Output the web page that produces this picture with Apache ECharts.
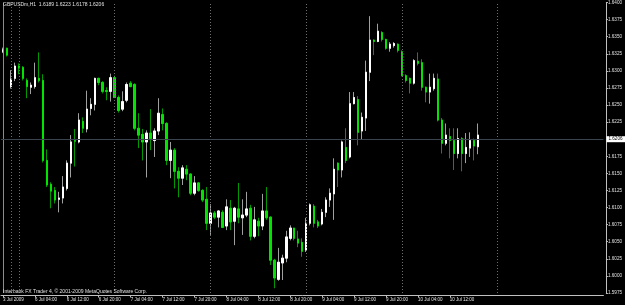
<!DOCTYPE html>
<html><head><meta charset="utf-8">
<script src="https://cdn.jsdelivr.net/npm/echarts@6/dist/echarts.min.js"></script>
<style>html,body{margin:0;padding:0;background:#000;}#c{width:625px;height:305px;}</style>
</head><body><div id="c"></div>
<script>
const headerText = 'GBPUSDm,H1  1.6189 1.6223 1.6178 1.6206';
const copyrightText = 'Interbank FX Trader 4, \u00a9 2001-2009 MetaQuotes Software Corp.';

const open = [1.6328,1.6333,1.6277,1.6289,1.6307,1.6305,1.6286,1.6276,1.6277,1.6289,
1.6286,1.6169,1.6134,1.6125,1.6112,1.6114,1.6128,1.6165,1.6198,1.6196,
1.6226,1.6215,1.6245,1.6251,1.6289,1.6283,1.6271,1.6270,1.6290,1.6261,
1.6244,1.6257,1.6282,1.6280,1.6216,1.6207,1.6196,1.6209,1.6198,1.6212,
1.6236,1.6223,1.6169,1.6184,1.6153,1.6143,1.6156,1.6149,1.6121,1.6136,
1.6125,1.6112,1.6077,1.6092,1.6086,1.6093,1.6073,1.6099,1.6080,1.6098,
1.6085,1.6089,1.6099,1.6058,1.6080,1.6073,1.6095,1.6086,1.6023,1.5995,
1.6019,1.6026,1.6055,1.6070,1.6054,1.6049,1.6038,1.6077,1.6102,1.6079,
1.6076,1.6093,1.6111,1.6120,1.6165,1.6155,1.6188,1.6174,1.6252,1.6258,
1.6212,1.6231,1.6298,1.6345,1.6343,1.6356,1.6346,1.6333,1.6337,1.6339,
1.6328,1.6293,1.6289,1.6282,1.6314,1.6312,1.6276,1.6269,1.6274,1.6288,
1.6228,1.6194,1.6204,1.6198,1.6179,1.6201,1.6179,1.6187,1.6198,1.6189];
const close = [1.6331,1.6323,1.6288,1.6307,1.6304,1.6289,1.6277,1.6279,1.6290,1.6286,
1.6169,1.6133,1.6124,1.6111,1.6114,1.6130,1.6165,1.6196,1.6197,1.6228,
1.6216,1.6244,1.6251,1.6289,1.6283,1.6270,1.6270,1.6290,1.6261,1.6242,
1.6255,1.6280,1.6277,1.6216,1.6206,1.6196,1.6209,1.6201,1.6212,1.6238,
1.6223,1.6169,1.6184,1.6153,1.6143,1.6158,1.6149,1.6121,1.6136,1.6125,
1.6111,1.6077,1.6092,1.6086,1.6095,1.6071,1.6101,1.6079,1.6099,1.6086,
1.6089,1.6098,1.6058,1.6082,1.6073,1.6095,1.6085,1.6023,1.5997,1.6020,
1.6026,1.6057,1.6070,1.6055,1.6048,1.6036,1.6077,1.6104,1.6077,1.6073,
1.6093,1.6111,1.6121,1.6156,1.6155,1.6196,1.6169,1.6252,1.6261,1.6210,
1.6232,1.6298,1.6345,1.6343,1.6358,1.6346,1.6333,1.6339,1.6340,1.6330,
1.6293,1.6286,1.6282,1.6315,1.6311,1.6276,1.6269,1.6276,1.6289,1.6228,
1.6194,1.6206,1.6198,1.6179,1.6201,1.6179,1.6188,1.6198,1.6190,1.6206];
const high = [1.6334,1.6334,1.6301,1.6312,1.6311,1.6307,1.6289,1.6283,1.6312,1.6327,
1.6295,1.6185,1.6137,1.6130,1.6123,1.6146,1.6169,1.6206,1.6215,1.6238,
1.6232,1.6271,1.6260,1.6290,1.6290,1.6285,1.6276,1.6296,1.6293,1.6264,
1.6270,1.6283,1.6285,1.6282,1.6238,1.6215,1.6213,1.6244,1.6216,1.6260,
1.6245,1.6225,1.6196,1.6187,1.6159,1.6162,1.6162,1.6150,1.6146,1.6137,
1.6127,1.6130,1.6105,1.6095,1.6096,1.6096,1.6112,1.6111,1.6101,1.6136,
1.6112,1.6123,1.6104,1.6101,1.6085,1.6120,1.6130,1.6087,1.6025,1.6041,
1.6031,1.6066,1.6074,1.6070,1.6066,1.6055,1.6085,1.6106,1.6105,1.6082,
1.6098,1.6115,1.6128,1.6172,1.6166,1.6198,1.6216,1.6269,1.6269,1.6263,
1.6239,1.6315,1.6380,1.6346,1.6369,1.6358,1.6347,1.6342,1.6342,1.6340,
1.6330,1.6295,1.6290,1.6317,1.6327,1.6317,1.6277,1.6296,1.6296,1.6296,
1.6231,1.6223,1.6216,1.6216,1.6216,1.6203,1.6209,1.6210,1.6201,1.6223];
const low = [1.6326,1.6321,1.6274,1.6285,1.6295,1.6286,1.6260,1.6266,1.6274,1.6283,
1.6166,1.6130,1.6099,1.6106,1.6093,1.6106,1.6125,1.6144,1.6160,1.6194,
1.6209,1.6210,1.6235,1.6242,1.6279,1.6267,1.6257,1.6255,1.6260,1.6239,
1.6241,1.6254,1.6276,1.6213,1.6187,1.6169,1.6144,1.6184,1.6174,1.6206,
1.6213,1.6162,1.6143,1.6128,1.6115,1.6133,1.6140,1.6118,1.6118,1.6123,
1.6108,1.6067,1.6060,1.6083,1.6071,1.6070,1.6067,1.6067,1.6045,1.6077,
1.6060,1.6086,1.6052,1.6055,1.6058,1.6067,1.6082,1.6016,1.5982,1.5993,
1.5994,1.6020,1.6052,1.6052,1.6042,1.6028,1.6035,1.6074,1.6071,1.6070,
1.6074,1.6086,1.6101,1.6082,1.6130,1.6144,1.6165,1.6172,1.6251,1.6191,
1.6200,1.6212,1.6285,1.6323,1.6342,1.6343,1.6331,1.6328,1.6334,1.6327,
1.6292,1.6283,1.6267,1.6280,1.6308,1.6271,1.6254,1.6252,1.6271,1.6226,
1.6179,1.6191,1.6172,1.6155,1.6172,1.6153,1.6165,1.6174,1.6169,1.6178];

const firstBars = ['3 Jul 2009','3 Jul 23:00','5 Jul 22:00','5 Jul 23:00'];
const tickLabels = ['3 Jul 2009','6 Jul 04:00','6 Jul 12:00','6 Jul 20:00','7 Jul 04:00','7 Jul 12:00','7 Jul 20:00',
  '8 Jul 04:00','8 Jul 12:00','8 Jul 20:00','9 Jul 04:00','9 Jul 12:00','9 Jul 20:00','10 Jul 04:00','10 Jul 12:00'];
const daySeparators = ['5 Jul 22:00','6 Jul 00:00','7 Jul 00:00','8 Jul 00:00','9 Jul 00:00','10 Jul 00:00','11 Jul 00:00'];
const currentPrice = 1.6206;
const priceMin = 1.5975, priceMax = 1.6400, priceStep = 0.0025;

// hourly slots (data bars + empty right shift)
const slotCount = 151;
const categories = firstBars.slice();
for (let i = 0; categories.length < slotCount; i++) {
  const d = 6 + Math.floor(i / 24), h = i % 24;
  categories.push(d + ' Jul ' + String(h).padStart(2, '0') + ':00');
}
const tickSet = new Set(tickLabels);
const wickData = open.map((o, i) => [o, close[i], low[i], high[i]]);
const bodyData = open.map((o, i) => [o, close[i], Math.min(o, close[i]), Math.max(o, close[i])]);

const FONT = 'Liberation Sans';
const chart = echarts.init(document.getElementById('c'), null, {renderer: 'canvas'});
chart.setOption({
  backgroundColor: '#000000',
  animation: false,
  title: [
    {text: headerText, left: 3, top: 2, padding: 0,
     textStyle: {color: '#e0e0e0', fontSize: 5, fontWeight: 'normal', fontFamily: FONT}},
    {text: copyrightText, left: 3, top: 289, padding: 0,
     textStyle: {color: '#e0e0e0', fontSize: 5, fontWeight: 'normal', fontFamily: FONT}}
  ],
  grid: {left: -0.5, top: 2, width: 604, height: 291},
  xAxis: {
    type: 'category', data: categories, boundaryGap: true, offset: 2.5,
    axisLine: {show: true, lineStyle: {color: '#c0c0c0', width: 1}},
    axisTick: {show: true, alignWithLabel: true, length: 2, interval: (i, v) => tickSet.has(v), lineStyle: {color: '#c0c0c0'}},
    axisLabel: {interval: (i, v) => tickSet.has(v), align: 'left', color: '#e0e0e0', fontSize: 4.5, margin: 1.5, fontFamily: FONT},
    splitLine: {show: false}
  },
  yAxis: {
    type: 'value', position: 'right', offset: 2.5,
    min: priceMin, max: priceMax, interval: priceStep,
    axisLine: {show: true, lineStyle: {color: '#c0c0c0', width: 1}},
    axisTick: {show: true, length: 2, lineStyle: {color: '#c0c0c0'}},
    axisLabel: {color: '#e0e0e0', fontSize: 4.6, margin: 2, fontFamily: FONT,
      showMinLabel: true, showMaxLabel: true, formatter: v => v.toFixed(4)},
    splitLine: {show: false}
  },
  series: [
    {
      name: 'wick', type: 'candlestick', data: wickData, barWidth: 2,
      itemStyle: {color: 'rgba(0,0,0,0)', color0: 'rgba(0,0,0,0)', borderColor: '#a0a0a0', borderColor0: '#009a00', borderWidth: 1},
      markLine: {
        silent: true, symbol: ['none', 'none'], animation: false,
        lineStyle: {color: '#6e6e6e', type: [1, 2], width: 1, opacity: 1},
        emphasis: {disabled: true},
        data: [
          {xAxis: firstBars[0], lineStyle: {color: '#8c8c8c', type: 'solid'}, label: {show: false}},
          ...daySeparators.map(s => ({xAxis: s, label: {show: false}})),
          {yAxis: currentPrice, lineStyle: {color: '#3a4550', type: 'solid'},
           label: {show: true, position: 'end', distance: 3, formatter: currentPrice.toFixed(4),
             color: '#000', backgroundColor: '#ffffff', fontSize: 4.6, fontFamily: FONT, padding: [1, 3, 0, 2]}}
        ]
      }
    },
    {
      name: 'body', type: 'candlestick', data: bodyData, barWidth: 2,
      itemStyle: {color: '#ffffff', color0: '#00e400', borderColor: '#ffffff', borderColor0: '#00e400', borderWidth: 1}
    }
  ]
});
</script></body></html>
